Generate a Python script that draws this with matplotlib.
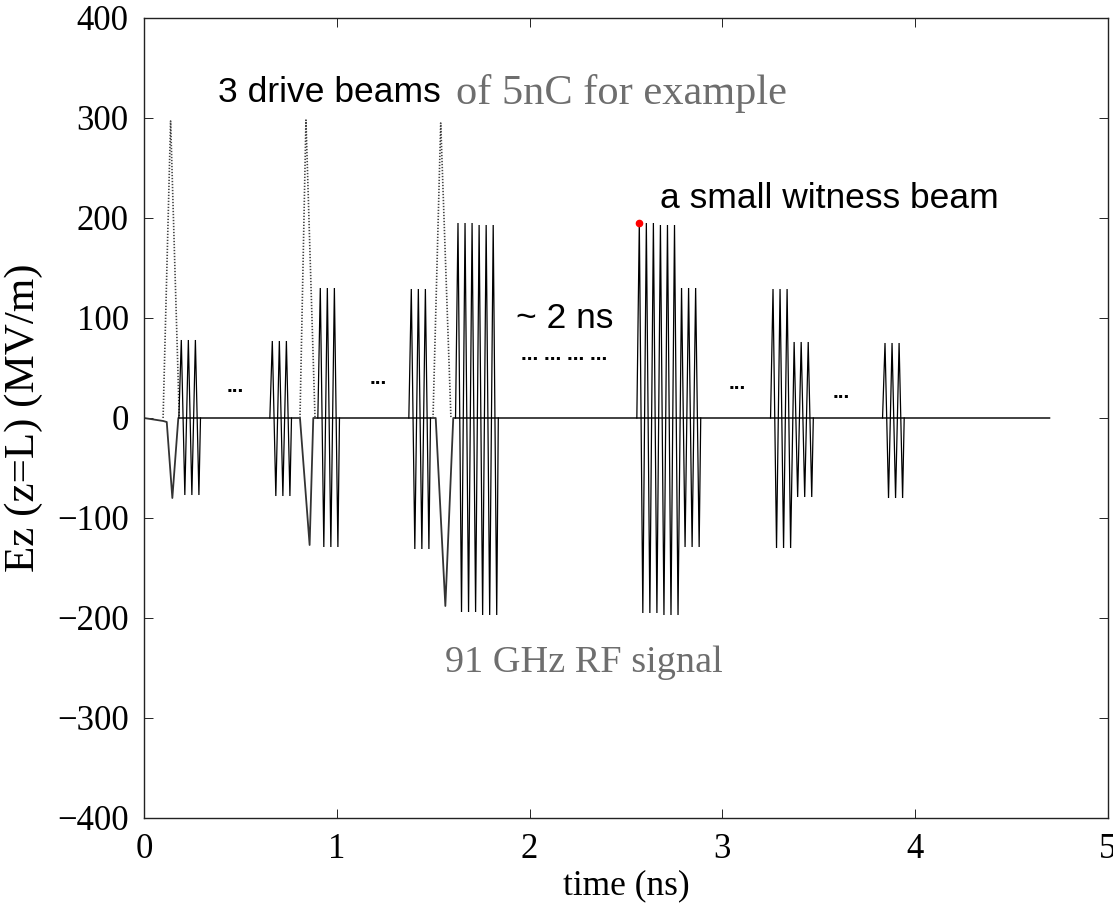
import matplotlib
matplotlib.use("Agg")
import matplotlib.pyplot as plt
import numpy as np

# ---- data -------------------------------------------------------------
# zero line of the field, including the negative kick of each drive beam
baseline_t = [0.0, 0.100, 0.118, 0.147, 0.178, 0.809, 0.859, 0.878,
              1.513, 1.563, 1.604, 4.696]
baseline_E = [0, -3, -4, -80, 0, 0, -127, 0, 0, -188, 0, 0]

# dotted drive-beam profiles (start, peak, end)
drive_t = [[0.099, 0.138, 0.183],
           [0.809, 0.840, 0.887],
           [1.499, 1.539, 1.592]]
drive_E = [[0, 297, 0],
           [0, 298, 0],
           [0, 295, 0]]

# RF wakefield bursts: time of first crest and the successive extrema
rf_half_period = 0.01826
burst_t0 = [0.1935, 0.6655, 0.9144, 1.3864, 1.6286, 2.569, 3.2625, 3.8434]
burst_extrema = [
    [78, -77, 78, -77, 78, -77],
    [77, -78, 77, -78, 77, -78],
    [130, -129, 130, -129, 130, -129],
    [129, -131, 129, -131, 129, -131],
    [195, -194, 195, -194, 195, -194, 193, -197, 193, -197, 193, -197],
    [195, -195, 195, -195, 195, -195, 193, -197, 193, -197, 193, -197,
     130, -129, 130, -129, 130, -129],
    [129, -130, 129, -130, 129, -130, 76, -79, 76, -79, 76, -79],
    [75, -80, 75, -80, 75, -80],
]

# witness beam marker
witness_t = [2.569]
witness_E = [195]

# ellipsis markers between bursts
gap_dots_t = [0.472, 1.214, 3.076, 3.615]
gap_dots_E = [26, 34, 29, 20]

# ---- figure -----------------------------------------------------------
fig = plt.figure(figsize=(11.13, 9.06), dpi=100)
ax = fig.add_axes([144 / 1113, 1 - 818 / 906, 964 / 1113, 800 / 906])

line_kw = dict(color="black", lw=0.9, solid_joinstyle="miter")

ax.plot(baseline_t, baseline_E, color="#333333", lw=1.3)

for t, E in zip(drive_t, drive_E):
    ax.plot(t, E, color="#444444", lw=1.2, linestyle=(0, (0.8, 1.0)))

for t0, ext in zip(burst_t0, burst_extrema):
    ts = [t0 - 0.7 * rf_half_period]
    es = [0]
    for i, v in enumerate(ext):
        ts.append(t0 + i * rf_half_period)
        es.append(v)
    ts.append(ts[-1] + 0.45 * rf_half_period)
    es.append(0)
    ax.plot(ts, es, **line_kw)

ax.plot(witness_t, witness_E, "o", color="red", markersize=4.5, zorder=5)

# ---- annotations --------------------------------------------------------
sans = "Liberation Sans"
serif = "Liberation Serif"
ax.text(0.382, 316, "3 drive beams", family=sans, fontsize=25.5,
        color="black", va="baseline")
ax.text(1.618, 314, "of 5nC for example", family=serif, fontsize=30.5,
        color="#6e6e6e", va="baseline")
ax.text(2.675, 210, "a small witness beam", family=sans, fontsize=25.5,
        color="black", va="baseline")
ax.text(1.932, 90, "~ 2 ns", family=sans, fontsize=25.5,
        color="black", va="baseline")
ax.text(1.955, 58, "... ... ... ...", family=sans, fontsize=15,
        fontweight="bold", color="black", va="baseline")
for t, E in zip(gap_dots_t, gap_dots_E):
    ax.text(t, E, "...", family=sans, fontsize=15, fontweight="bold",
            color="black", ha="center", va="baseline")
ax.text(1.56, -254, "91 GHz RF signal", family=serif, fontsize=27.5,
        color="#6e6e6e", va="baseline")

# ---- axes ---------------------------------------------------------------
ax.set_xlim(0, 5)
ax.set_ylim(-400, 400)
ax.set_xticks([0, 1, 2, 3, 4, 5])
ax.set_yticks(np.arange(-400, 401, 100))
ax.tick_params(direction="in", length=6.5, width=0.6, top=True, right=True,
               pad=11, labelsize=25)
for lab in ax.get_xticklabels() + ax.get_yticklabels():
    lab.set_family(serif)
for s in ax.spines.values():
    s.set_linewidth(1.0)
    s.set_color("#222222")

ax.set_xlabel("time (ns)", family=serif, fontsize=25.5, labelpad=2)
ax.set_ylabel("Ez (z=L) (MV/m)", family=serif, fontsize=31, labelpad=10)

fig.savefig("out.png", dpi=100, facecolor="white")
